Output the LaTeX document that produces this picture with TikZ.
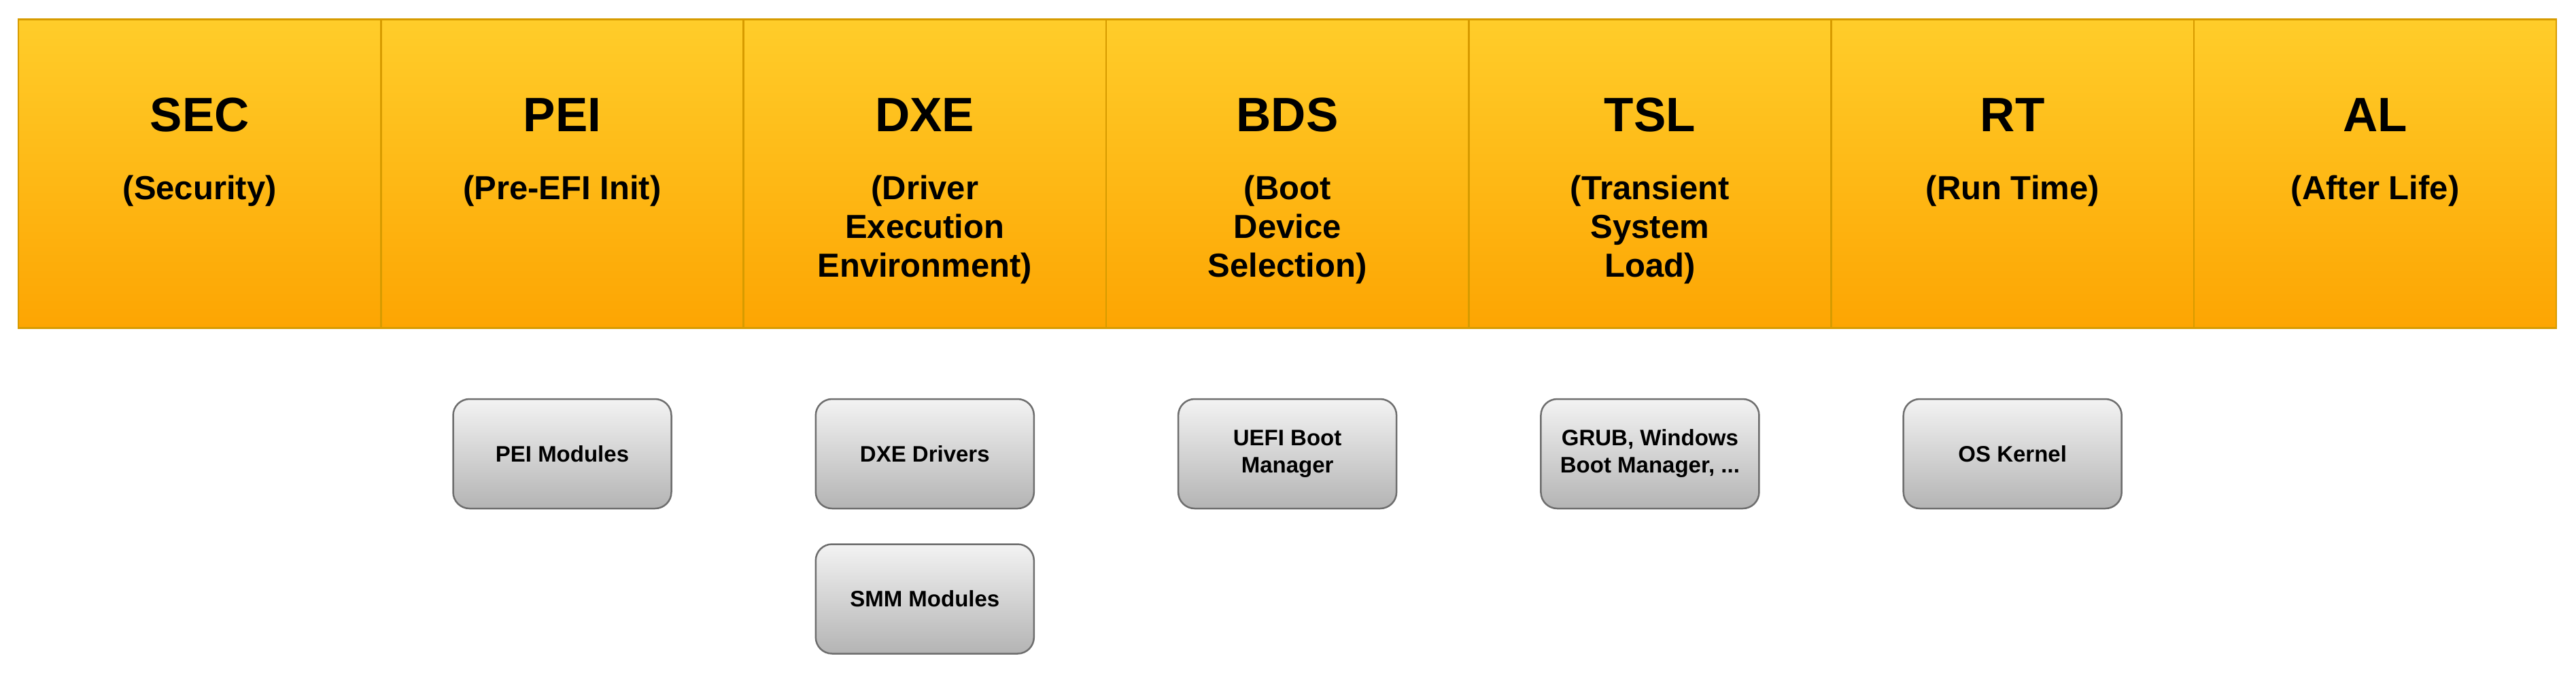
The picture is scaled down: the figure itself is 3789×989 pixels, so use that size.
\documentclass[tikz,border=0pt]{standalone}
\usepackage{fontspec}
\setmainfont{Liberation Sans}
\definecolor{phtop}{RGB}{255,205,42}
\definecolor{phbot}{RGB}{253,165,2}
\definecolor{phline}{RGB}{215,155,0}
\definecolor{gtop}{RGB}{243,243,243}
\definecolor{gbot}{RGB}{180,180,180}
\definecolor{gline}{RGB}{110,110,110}
\begin{document}
\begin{tikzpicture}[x=1pt,y=-1pt,
  phase/.style={draw=phline, line width=2.5pt, top color=phtop, bottom color=phbot,
    minimum width=533.3pt, minimum height=454pt, inner sep=0pt, anchor=north},
  ptitle/.style={font=\bfseries\fontsize{71}{80}\selectfont, anchor=base, inner sep=0pt},
  psub/.style={font=\bfseries\fontsize{49}{57}\selectfont, align=center, anchor=north, inner sep=0pt},
  module/.style={draw=gline, line width=2.5pt, top color=gtop, bottom color=gbot,
    rounded corners=24pt, minimum width=321pt, minimum height=161pt, inner sep=0pt,
    font=\bfseries\fontsize{33}{40}\selectfont, align=center}]
\useasboundingbox (0,0) rectangle (3789,989);

% phase columns
\node[phase] (sec) at (293.7,27) {};
\node[phase] (pei) at (827.0,27) {};
\node[phase] (dxe) at (1360.3,27) {};
\node[phase] (bds) at (1893.6,27) {};
\node[phase] (tsl) at (2426.9,27) {};
\node[phase] (rt)  at (2960.2,27) {};
\node[phase] (al)  at (3493.5,27) {};

% titles
\node[ptitle] (sect) at (293.7,193) {SEC};
\node[ptitle] (peit) at (827.0,193) {PEI};
\node[ptitle] (dxet) at (1360.3,193) {DXE};
\node[ptitle] (bdst) at (1893.6,193) {BDS};
\node[ptitle] (tslt) at (2426.9,193) {TSL};
\node[ptitle] (rtt)  at (2960.2,193) {RT};
\node[ptitle] (alt)  at (3493.5,193) {AL};

% subtitles
\node[psub] (secs) at (293.7,258) {(Security)};
\node[psub] (peis) at (827.0,258) {(Pre-EFI Init)};
\node[psub] (dxes) at (1360.3,258) {(Driver\\Execution\\Environment)};
\node[psub] (bdss) at (1893.6,258) {(Boot\\Device\\Selection)};
\node[psub] (tsls) at (2426.9,258) {(Transient\\System\\Load)};
\node[psub] (rts)  at (2960.2,258) {(Run Time)};
\node[psub] (als)  at (3493.5,258) {(After Life)};

% modules
\node[module] (peim) at (827.0,667.5) {PEI Modules};
\node[module] (dxem) at (1360.3,667.5) {DXE Drivers};
\node[module] (smmm) at (1360.3,881) {SMM Modules};
\node[module] (bdsm) at (1893.6,667.5) {UEFI Boot\\Manager};
\node[module] (tslm) at (2426.9,667.5) {GRUB, Windows\\Boot Manager, ...};
\node[module] (rtm)  at (2960.2,667.5) {OS Kernel};
\end{tikzpicture}
\end{document}
